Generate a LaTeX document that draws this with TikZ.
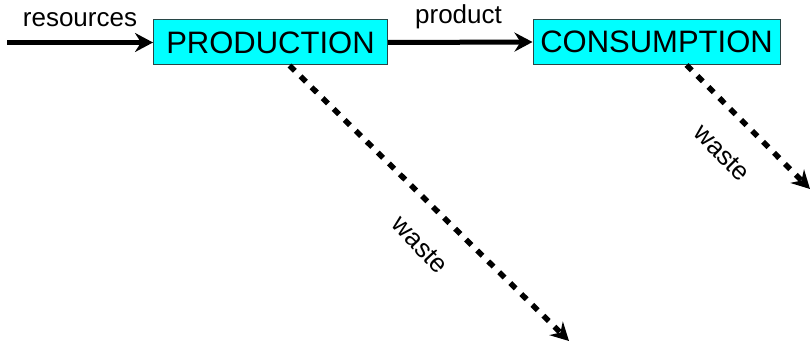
\documentclass[tikz,border=0pt]{standalone}
\usepackage{fontspec}
\setmainfont{Liberation Sans}
\usetikzlibrary{arrows.meta}
\definecolor{boxfill}{RGB}{0,255,255}
\definecolor{boxline}{RGB}{40,70,70}
\begin{document}
\begin{tikzpicture}[x=1pt,y=-1pt,
  procbox/.style={draw=boxline,line width=1pt,fill=boxfill,minimum height=45pt,inner sep=0pt,font=\fontsize{31}{31}\selectfont},
  flow/.style={line width=5pt,-{Stealth[length=18pt,width=19pt,inset=6pt]}},
  wasteflow/.style={line width=5.5pt,dash pattern=on 7.5pt off 8pt,-{Stealth[length=18pt,width=19pt,inset=6pt]}},
  lbl/.style={font=\fontsize{26}{26}\selectfont,inner sep=0pt}]
\useasboundingbox (0,0) rectangle (812,342);
\node[procbox,minimum width=234pt] (prod) at (270.5,42.5) {PRODUCTION};
\node[procbox,minimum width=247pt] (cons) at (656.5,42) {CONSUMPTION};
\coordinate (src) at (7,42.5);
\coordinate (w1) at (569,341);
\coordinate (w2) at (810,189);
\draw[flow] (src) -- (prod.west);
\draw[flow] (prod.east) -- (cons.west);
\draw[wasteflow] ([xshift=19pt]prod.south) -- (w1);
\draw[wasteflow] ([xshift=30pt]cons.south) -- (w2);
\node[lbl,anchor=base] (lres) at (80,27) {resources};
\node[lbl,anchor=base] (lprod) at (458.5,24) {product};
\node[lbl,rotate=-47] (lw1) at (420,245) {waste};
\node[lbl,rotate=-45] (lw2) at (722,153) {waste};
\end{tikzpicture}
\end{document}
